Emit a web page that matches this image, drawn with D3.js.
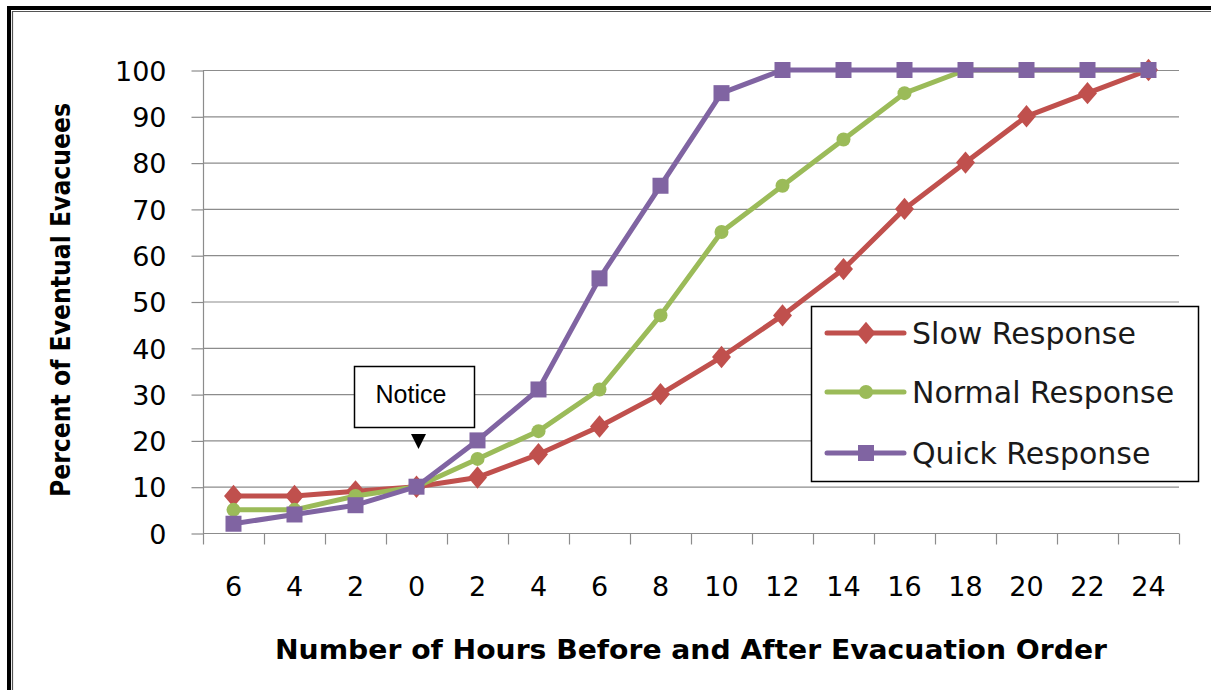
<!DOCTYPE html>
<html>
<head>
<meta charset="utf-8">
<script src="https://cdn.jsdelivr.net/npm/d3@7"></script>
<style>
  body { margin: 0; background: #fff; }
  svg { display: block; }
</style>
</head>
<body>
<div id="chart"></div>
<script>
(function() {
    "use strict";

    // categories along the x axis (hours before / after the order)
    var hours = ["6", "4", "2", "0", "2", "4", "6", "8", "10", "12", "14", "16", "18", "20", "22", "24"];
    var slow = [8, 8, 9, 10, 12, 17, 23, 30, 38, 47, 57, 70, 80, 90, 95, 100];
    var normal = [5, 5, 8, 10, 16, 22, 31, 47, 65, 75, 85, 95, 100, 100, 100, 100];
    var quick = [2, 4, 6, 10, 20, 31, 55, 75, 95, 100, 100, 100, 100, 100, 100, 100];
    var yTicks = [0, 10, 20, 30, 40, 50, 60, 70, 80, 90, 100];

    var series = [
        {name: "Slow Response", values: slow, color: "#C0504D", marker: "diamond"},
        {name: "Normal Response", values: normal, color: "#9BBB59", marker: "circle"},
        {name: "Quick Response", values: quick, color: "#8064A2", marker: "square"}
    ];

    var W = 1211, H = 690;
    var left = 203, right = 1179, top = 70, bottom = 533;
    var font = "'DejaVu Sans', Tahoma, sans-serif";
    var grid = "#8c8c8c";

    var svg = d3.select("#chart").append("svg").attr("width", W).attr("height", H);

    // frame (thick black on top / left with a thin inner line)
    svg.append("path").attr("d", "M9,690 V8 H1211").attr("fill", "none")
        .attr("stroke", "#000").attr("stroke-width", 4);
    svg.append("path").attr("d", "M12.5,690 V11.5 H1211").attr("fill", "none")
        .attr("stroke", "#555").attr("stroke-width", 1.2);

    var x = d3.scaleBand().domain(d3.range(hours.length)).range([left, right]);
    var y = d3.scaleLinear().domain([0, 100]).range([bottom, top]);

    // gridlines
    svg.append("g").selectAll("line").data(yTicks.filter(function(d) { return d > 0; })).enter()
        .append("line")
        .attr("x1", left).attr("x2", right)
        .attr("y1", function(d) { return y(d) + 0.5; }).attr("y2", function(d) { return y(d) + 0.5; })
        .attr("stroke", grid).attr("stroke-width", 1.2);

    // y axis
    var yAxis = svg.append("g").attr("transform", "translate(" + (left + 0.5) + ",0.5)")
        .call(d3.axisLeft(y).tickValues(yTicks).tickSize(12).tickPadding(25));
    yAxis.select(".domain").attr("stroke", grid).attr("stroke-width", 1.2).attr("d", "M0," + top + "V" + bottom);
    yAxis.selectAll(".tick line").attr("stroke", grid).attr("stroke-width", 1.2);
    yAxis.selectAll("text").attr("font-family", font).attr("font-size", 27).attr("fill", "#000")
        .attr("dy", "0.36em");

    // x axis with ticks on category boundaries
    var xAxis = svg.append("g").attr("transform", "translate(0," + (bottom + 0.5) + ")");
    xAxis.append("line").attr("x1", left).attr("x2", right).attr("stroke", grid).attr("stroke-width", 1.2);
    var bounds = d3.range(hours.length + 1).map(function(i) { return left + i * x.step(); });
    xAxis.selectAll(".tk").data(bounds).enter().append("line").attr("class", "tk")
        .attr("x1", function(d) { return Math.round(d) + 0.5; }).attr("x2", function(d) { return Math.round(d) + 0.5; })
        .attr("y1", 0).attr("y2", 11)
        .attr("stroke", grid).attr("stroke-width", 1.2);
    xAxis.selectAll("text").data(hours).enter().append("text")
        .attr("x", function(d, i) { return x(i) + x.bandwidth() / 2; })
        .attr("y", 62)
        .attr("text-anchor", "middle")
        .attr("font-family", font).attr("font-size", 27)
        .text(function(d) { return d; });

    // axis titles
    svg.append("text").attr("x", 691).attr("y", 659).attr("text-anchor", "middle")
        .attr("font-family", font).attr("font-weight", "bold").attr("font-size", 27)
        .attr("textLength", 832).attr("lengthAdjust", "spacingAndGlyphs")
        .text("Number of Hours Before and After Evacuation Order");
    svg.append("text").attr("transform", "translate(70,300) rotate(-90)").attr("text-anchor", "middle")
        .attr("font-family", font).attr("font-weight", "bold").attr("font-size", 27)
        .attr("textLength", 394).attr("lengthAdjust", "spacingAndGlyphs")
        .text("Percent of Eventual Evacuees");

    var cx = function(d, i) { return x(i) + x.bandwidth() / 2; };
    var line = d3.line().x(cx).y(function(d) { return y(d); });

    function drawMarker(g, type, color, px, py) {
        if (type === "diamond") {
            g.append("path").attr("d", d3.symbol(d3.symbolDiamond, 200)())
                .attr("transform", "translate(" + px + "," + py + ") scale(1.25,0.85)").attr("fill", color);
        } else if (type === "circle") {
            g.append("circle").attr("cx", px).attr("cy", py).attr("r", 7).attr("fill", color);
        } else {
            g.append("rect").attr("x", px - 8).attr("y", py - 8).attr("width", 16).attr("height", 16).attr("fill", color);
        }
    }

    series.forEach(function(s) {
        var g = svg.append("g");
        g.append("path").datum(s.values).attr("d", line)
            .attr("fill", "none").attr("stroke", s.color).attr("stroke-width", 5)
            .attr("stroke-linejoin", "round");
        s.values.forEach(function(v, i) {
            drawMarker(g, s.marker, s.color, cx(v, i), y(v));
        });
    });

    // Notice callout
    var nx = x(3) + x.bandwidth() / 2 + 2;
    svg.append("rect").attr("x", 354.5).attr("y", 366.5).attr("width", 120).attr("height", 61)
        .attr("fill", "#fff").attr("stroke", "#000").attr("stroke-width", 1.5);
    svg.append("text").attr("x", 411).attr("y", 403).attr("text-anchor", "middle")
        .attr("font-family", "'Liberation Sans', Arial, sans-serif").attr("font-size", 25).text("Notice");
    svg.append("path").attr("d", "M" + (nx - 7.5) + ",434 H" + (nx + 7.5) + " L" + nx + ",449 Z").attr("fill", "#000");

    // legend
    var lg = svg.append("g");
    lg.append("rect").attr("x", 811.5).attr("y", 306.5).attr("width", 387).attr("height", 175)
        .attr("fill", "#fff").attr("stroke", "#000").attr("stroke-width", 1.5);
    var ly = [333, 392, 453];
    series.forEach(function(s, i) {
        lg.append("line").attr("x1", 827).attr("x2", 904).attr("y1", ly[i]).attr("y2", ly[i])
            .attr("stroke", s.color).attr("stroke-width", 5).attr("stroke-linecap", "round");
        drawMarker(lg, s.marker, s.color, 866, ly[i]);
        lg.append("text").attr("x", 912).attr("y", ly[i] + 11)
            .attr("font-family", font).attr("font-size", 30).attr("fill", "#1a1a1a").text(s.name);
    });
})();
</script>
</body>
</html>
